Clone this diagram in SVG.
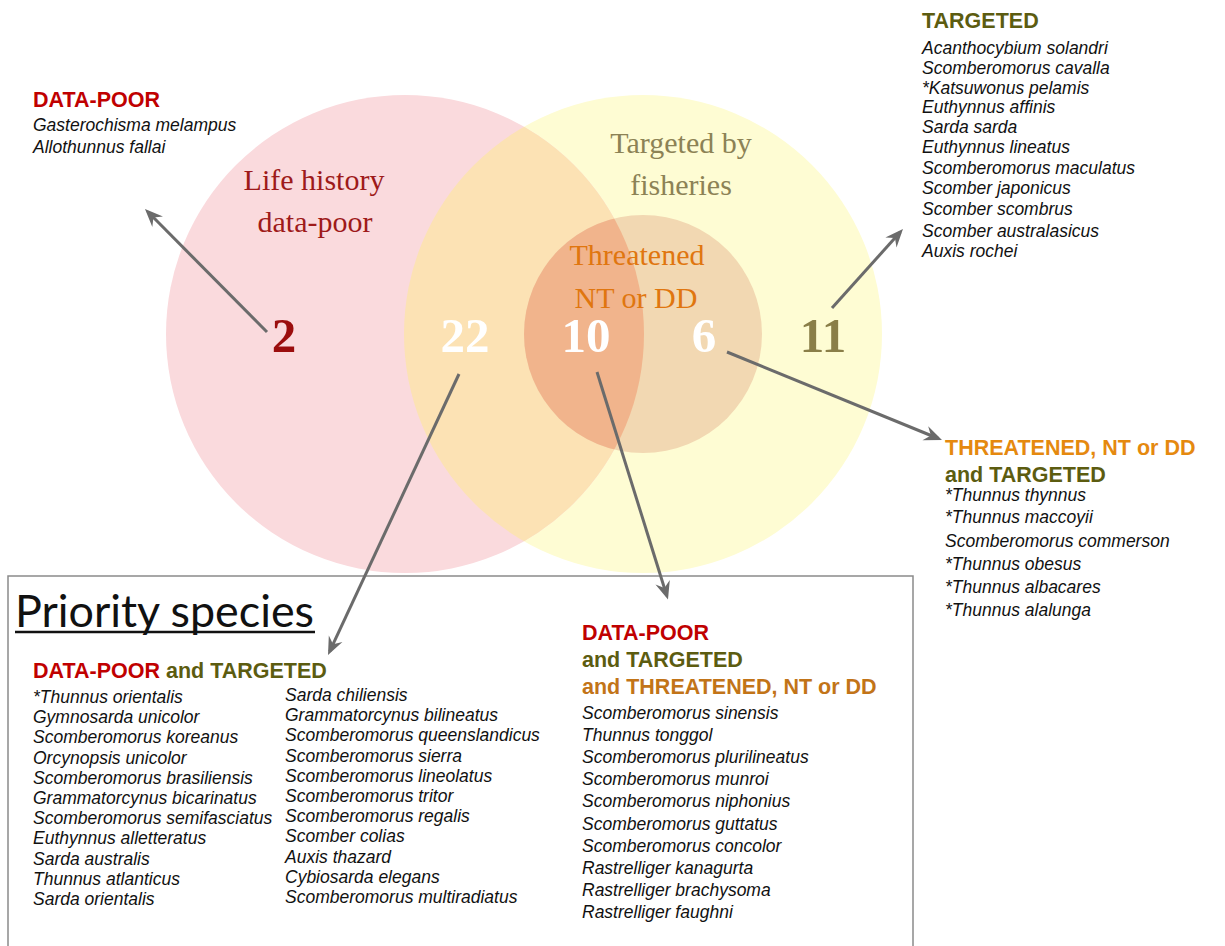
<svg xmlns="http://www.w3.org/2000/svg" width="1225" height="946" viewBox="0 0 1225 946">
<style>
.hd{font-family:"Liberation Sans",Arial,sans-serif;font-weight:bold;font-size:21.5px}
.sp{font-family:"Liberation Sans",Arial,sans-serif;font-style:italic;font-size:17.5px;fill:#111}
.cl{font-family:"Liberation Serif","Times New Roman",serif;font-size:30px;text-anchor:middle}
.num{font-family:"Liberation Serif","Times New Roman",serif;font-weight:bold;font-size:49px;text-anchor:middle}
.red{fill:#c00000}
.olv{fill:#5c5c10}
.org{fill:#e5890f}
.brn{fill:#c27418}
.conn line{stroke:#6b6b6b;stroke-width:3;marker-end:url(#ah)}
</style>
<defs>
<marker id="ah" viewBox="-16 -9 22 18" refX="0" refY="0" markerWidth="22" markerHeight="18" markerUnits="userSpaceOnUse" orient="auto">
<path d="M4,0 L-14,-7.5 L-8,0 L-14,7.5 Z" fill="#6b6b6b"/>
</marker>
<clipPath id="cy"><circle cx="643" cy="334" r="239"/></clipPath>
<clipPath id="cr"><circle cx="405" cy="334" r="239"/></clipPath>
</defs>
<rect width="1225" height="946" fill="#fff"/>

<g id="venn">
<circle id="c-targeted" cx="643" cy="334" r="239" fill="#fefcd3"/>
<circle id="c-datapoor" cx="405" cy="334" r="239" fill="#fadadd"/>
<circle cx="405" cy="334" r="239" fill="#fce2b4" clip-path="url(#cy)"/>
<circle id="c-threatened" cx="643" cy="334" r="119" fill="#f2d8b2"/>
<circle cx="643" cy="334" r="119" fill="#f1b48c" clip-path="url(#cr)"/>
</g>

<g id="labels">
<text class="cl" x="314" y="190" fill="#9e1a1a">Life history</text>
<text class="cl" x="315" y="232" fill="#9e1a1a">data-poor</text>
<text class="cl" x="681" y="153" fill="#8c8255">Targeted by</text>
<text class="cl" x="681" y="195" fill="#8c8255">fisheries</text>
<text class="cl" x="637" y="265" fill="#e0760f">Threatened</text>
<text class="cl" x="636" y="308" fill="#e0760f">NT or DD</text>
<text class="num" x="284" y="352" fill="#9b0d0d">2</text>
<text class="num" x="465" y="352" fill="#fff">22</text>
<text class="num" x="586" y="352" fill="#fff">10</text>
<text class="num" x="704" y="352" fill="#fff">6</text>
<text class="num" x="823" y="352" fill="#8a7e48">11</text>
</g>

<g id="box-priority">
<rect x="8" y="576" width="905" height="380" fill="none" stroke="#8a8a8a" stroke-width="1.5"/>
<text x="15" y="627" font-family="Lato,'Open Sans',sans-serif" font-size="45" fill="#111" textLength="299" lengthAdjust="spacingAndGlyphs">Priority species</text>
<line x1="15" y1="632" x2="315" y2="632" stroke="#111" stroke-width="2.5"/>
</g>

<g id="grp-datapoor">
<text class="hd red" x="33" y="107">DATA-POOR</text>
<text class="sp" x="33" y="131">Gasterochisma melampus</text>
<text class="sp" x="33" y="153">Allothunnus fallai</text>
</g>

<g id="grp-targeted">
<text class="hd olv" x="922" y="27.5">TARGETED</text>
<text class="sp" x="922" y="54">Acanthocybium solandri</text>
<text class="sp" x="922" y="73.5">Scomberomorus cavalla</text>
<text class="sp" x="922" y="93.5">*Katsuwonus pelamis</text>
<text class="sp" x="922" y="113">Euthynnus affinis</text>
<text class="sp" x="922" y="133">Sarda sarda</text>
<text class="sp" x="922" y="153">Euthynnus lineatus</text>
<text class="sp" x="922" y="174">Scomberomorus maculatus</text>
<text class="sp" x="922" y="194">Scomber japonicus</text>
<text class="sp" x="922" y="215">Scomber scombrus</text>
<text class="sp" x="922" y="237">Scomber australasicus</text>
<text class="sp" x="922" y="257">Auxis rochei</text>
</g>

<g id="grp-threatened-targeted">
<text class="hd org" x="945" y="455">THREATENED, NT or DD</text>
<text class="hd olv" x="945" y="482">and TARGETED</text>
<text class="sp" x="945" y="501">*Thunnus thynnus</text>
<text class="sp" x="945" y="523">*Thunnus maccoyii</text>
<text class="sp" x="945" y="547">Scomberomorus commerson</text>
<text class="sp" x="945" y="570">*Thunnus obesus</text>
<text class="sp" x="945" y="593">*Thunnus albacares</text>
<text class="sp" x="945" y="616">*Thunnus alalunga</text>
</g>

<g id="grp-datapoor-targeted">
<text class="hd" x="33" y="678"><tspan class="red">DATA-POOR</tspan><tspan class="olv"> and TARGETED</tspan></text>
<text class="sp" x="33" y="703">*Thunnus orientalis</text>
<text class="sp" x="33" y="723.2">Gymnosarda unicolor</text>
<text class="sp" x="33" y="743.4">Scomberomorus koreanus</text>
<text class="sp" x="33" y="763.6">Orcynopsis unicolor</text>
<text class="sp" x="33" y="783.8">Scomberomorus brasiliensis</text>
<text class="sp" x="33" y="804">Grammatorcynus bicarinatus</text>
<text class="sp" x="33" y="824.2">Scomberomorus semifasciatus</text>
<text class="sp" x="33" y="844.4">Euthynnus alletteratus</text>
<text class="sp" x="33" y="864.6">Sarda australis</text>
<text class="sp" x="33" y="884.8">Thunnus atlanticus</text>
<text class="sp" x="33" y="905">Sarda orientalis</text>
<text class="sp" x="285" y="701">Sarda chiliensis</text>
<text class="sp" x="285" y="721.2">Grammatorcynus bilineatus</text>
<text class="sp" x="285" y="741.4">Scomberomorus queenslandicus</text>
<text class="sp" x="285" y="761.6">Scomberomorus sierra</text>
<text class="sp" x="285" y="781.8">Scomberomorus lineolatus</text>
<text class="sp" x="285" y="802">Scomberomorus tritor</text>
<text class="sp" x="285" y="822.2">Scomberomorus regalis</text>
<text class="sp" x="285" y="842.4">Scomber colias</text>
<text class="sp" x="285" y="862.6">Auxis thazard</text>
<text class="sp" x="285" y="882.8">Cybiosarda elegans</text>
<text class="sp" x="285" y="903">Scomberomorus multiradiatus</text>
</g>

<g id="grp-all-three">
<text class="hd red" x="582" y="640">DATA-POOR</text>
<text class="hd olv" x="582" y="667">and TARGETED</text>
<text class="hd brn" x="582" y="694">and THREATENED, NT or DD</text>
<text class="sp" x="582" y="718.5">Scomberomorus sinensis</text>
<text class="sp" x="582" y="740.7">Thunnus tonggol</text>
<text class="sp" x="582" y="762.9">Scomberomorus plurilineatus</text>
<text class="sp" x="582" y="785.1">Scomberomorus munroi</text>
<text class="sp" x="582" y="807.3">Scomberomorus niphonius</text>
<text class="sp" x="582" y="829.5">Scomberomorus guttatus</text>
<text class="sp" x="582" y="851.7">Scomberomorus concolor</text>
<text class="sp" x="582" y="874">Rastrelliger kanagurta</text>
<text class="sp" x="582" y="896.2">Rastrelliger brachysoma</text>
<text class="sp" x="582" y="918.4">Rastrelliger faughni</text>
</g>

<g id="connectors" class="conn">
<line x1="267" y1="332" x2="147.8" y2="211.8"/>
<line x1="459" y1="374" x2="329.7" y2="651.4"/>
<line x1="597" y1="372" x2="666.8" y2="595.7"/>
<line x1="727" y1="352" x2="938.3" y2="438.5"/>
<line x1="832" y1="308" x2="900.3" y2="232"/>
</g>
</svg>
